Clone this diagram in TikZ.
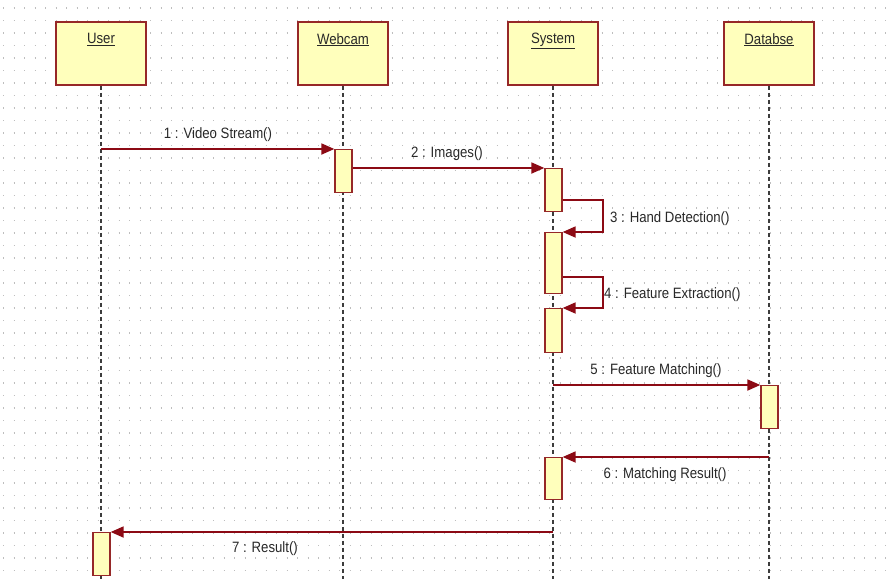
\documentclass[tikz,border=0pt]{standalone}
\usepackage{fontspec}
\setmainfont{Liberation Sans}
\newfontfamily\lblfont{Liberation Sans}[FakeStretch=0.88]
\usetikzlibrary{arrows.meta,calc}

\definecolor{boxfill}{RGB}{255,255,188}
\definecolor{boxline}{RGB}{150,40,40}
\definecolor{msgline}{RGB}{140,10,20}
\definecolor{lifeline}{RGB}{60,60,60}
\definecolor{griddot}{RGB}{190,190,190}
\definecolor{txt}{RGB}{40,40,40}

\begin{document}
\begin{tikzpicture}[x=1pt,y=-1pt,
  obj/.style={draw=boxline, line width=1.8pt, fill=boxfill, anchor=north,
              minimum width=90pt, minimum height=63pt, inner sep=0pt},
  objname/.style={anchor=north, inner sep=0pt, text=txt,
                  font=\lblfont\fontsize{15}{17}\selectfont},
  act/.style={draw=boxline, line width=1.3pt, fill=boxfill, anchor=north,
              minimum width=17pt, inner sep=0pt},
  life/.style={draw=lifeline, line width=1.3pt, dash pattern=on 4pt off 3pt},
  msg/.style={draw=msgline, line width=1.8pt,
              -{Triangle[length=13pt,width=11pt]}},
  msglabel/.style={inner sep=0pt, text=txt,
                   font=\lblfont\fontsize{15}{17}\selectfont}
]
% canvas
\useasboundingbox (0,0) rectangle (893,579);
\fill[white] (0,0) rectangle (893,579);

% dotted background grid
\foreach \gy in {8,20.5,...,579}
  \draw[griddot, line width=1.4pt, dash pattern=on 1.4pt off 9.1pt]
    (3,\gy) -- (893,\gy);

% participants
\node[obj] (user)   at (101,21) {};
\node[obj] (webcam) at (343,21) {};
\node[obj] (system) at (553,21) {};
\node[obj] (dbase)  at (769,21) {};

% lifeline ends
\coordinate (userend)   at (user.south |- 0,579);
\coordinate (webcamend) at (webcam.south |- 0,579);
\coordinate (systemend) at (system.south |- 0,579);
\coordinate (dbaseend)  at (dbase.south |- 0,579);

\draw[life] (user.south) -- (userend);
\draw[life] (webcam.south) -- (webcamend);
\draw[life] (system.south) -- (systemend);
\draw[life] (dbase.south) -- (dbaseend);

% participant names
\foreach \n/\t in {user/User, webcam/Webcam, system/System, dbase/Databse}
  \node[objname] at ($(\n.north)+(0,12)$) {\underline{\t}};

% activation bars
\node[act, minimum height=43pt] (w1) at (343.5,149) {};
\node[act, minimum height=43pt] (s1) at (553.5,168) {};
\node[act, minimum height=61pt] (s2) at (553.5,232) {};
\node[act, minimum height=44pt] (s3) at (553.5,308) {};
\node[act, minimum height=43pt] (d1) at (769.5,385) {};
\node[act, minimum height=42pt] (s4) at (553.5,457) {};
\node[act, minimum height=43pt] (u1) at (101.5,532) {};

% messages
\draw[msg] (user.south |- w1.north west) -- (w1.north west);
\node[msglabel] (m1) at (218,135) {1 : Video Stream()};

\draw[msg] (w1.east |- s1.north west) -- (s1.north west);
\node[msglabel] (m2) at (447,154) {2 : Images()};

\draw[msg] ($(s1.north east)+(0,32)$) -- ++(40,0) |- (s2.north east);
\node[msglabel, anchor=west] (m3) at (610,219) {3 : Hand Detection()};

\draw[msg] ($(s2.north east)+(0,45)$) -- ++(40,0) |- (s3.north east);
\node[msglabel, anchor=west] (m4) at (604,295) {4 : Feature Extraction()};

\draw[msg] (system.south |- d1.north west) -- (d1.north west);
\node[msglabel] (m5) at (656,371) {5 : Feature Matching()};

\draw[msg] (dbase.south |- s4.north east) -- (s4.north east);
\node[msglabel] (m6) at (665,475) {6 : Matching Result()};

\draw[msg] (system.south |- u1.north east) -- (u1.north east);
\node[msglabel] (m7) at (265,549) {7 : Result()};
\end{tikzpicture}
\end{document}
